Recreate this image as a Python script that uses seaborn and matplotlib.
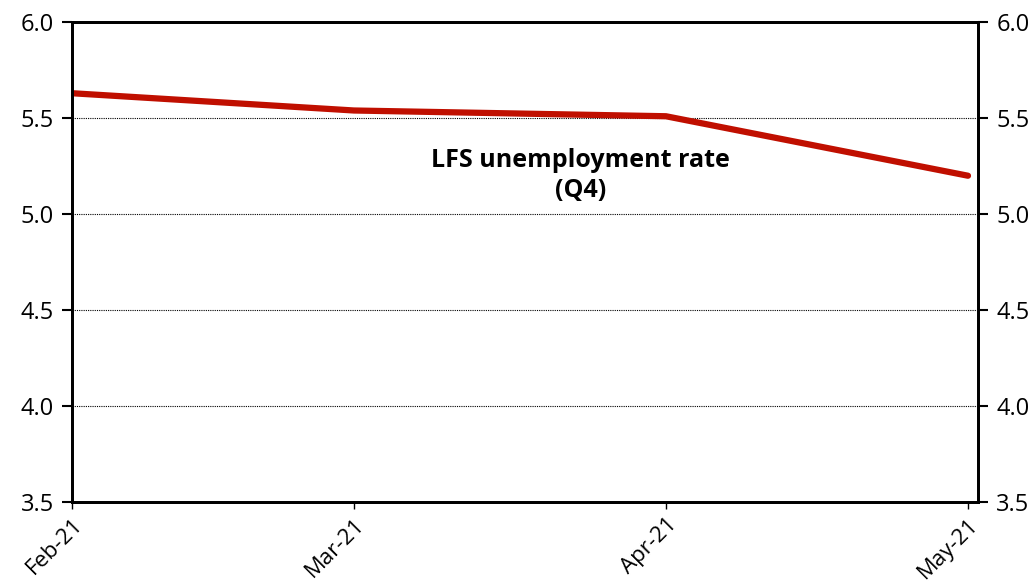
import pandas as pd
import matplotlib
matplotlib.use("Agg")
import matplotlib.pyplot as plt
import matplotlib.dates as mdates
import seaborn as sns

# Data
months = ["2021-02-01", "2021-03-01", "2021-04-01", "2021-05-01"]
rate = [5.63, 5.54, 5.51, 5.20]
y_ticks = [3.5, 4.0, 4.5, 5.0, 5.5, 6.0]

df = pd.DataFrame({"month": pd.to_datetime(months), "rate": rate})

sns.set_style("white")
plt.rcParams["font.family"] = ["Open Sans", "DejaVu Sans"]

fig = plt.figure(figsize=(10.35, 5.85), dpi=100)
ax = fig.add_axes([0.0696, 0.142, 0.8754, 0.820])

sns.lineplot(data=df, x="month", y="rate", ax=ax, color="#c00f00",
             linewidth=4.5, solid_capstyle="round")

ax.set_ylim(3.5, 6.0)
ax.set_xlim(pd.Timestamp("2021-02-01"), pd.Timestamp("2021-05-02"))
ax.set_yticks(y_ticks)
ax.set_yticklabels([f"{v:.1f}" for v in y_ticks])
ax.xaxis.set_major_locator(mdates.MonthLocator())
ax.xaxis.set_major_formatter(mdates.DateFormatter("%b-%y"))
plt.setp(ax.get_xticklabels(), rotation=45, ha="right", rotation_mode="anchor")

for v in y_ticks[1:-1]:
    ax.axhline(v, color="black", linewidth=0.8, linestyle=(0, (1, 1)), zorder=1)

for s in ax.spines.values():
    s.set_color("black")
    s.set_linewidth(2)

ax.tick_params(axis="y", direction="out", length=7, width=1.5, labelsize=17,
               colors="black", left=True, pad=6)
ax.tick_params(axis="x", direction="out", length=5, width=1, labelsize=16,
               colors="black", bottom=True, pad=4)
ax.set_xlabel("")
ax.set_ylabel("")

ax2 = ax.twinx()
ax2.set_ylim(3.5, 6.0)
ax2.set_yticks(y_ticks)
ax2.set_yticklabels([f"{v:.1f}" for v in y_ticks])
ax2.tick_params(axis="y", direction="out", length=7, width=1.5, labelsize=17,
                colors="black", right=True, pad=6)
for s in ax2.spines.values():
    s.set_color("black")
    s.set_linewidth(2)

ax.text(0.561, 0.681, "LFS unemployment rate\n(Q4)", transform=ax.transAxes,
        ha="center", va="center", fontsize=18, fontweight="bold",
        color="black", linespacing=1.25)

fig.savefig("out.png", dpi=100)
